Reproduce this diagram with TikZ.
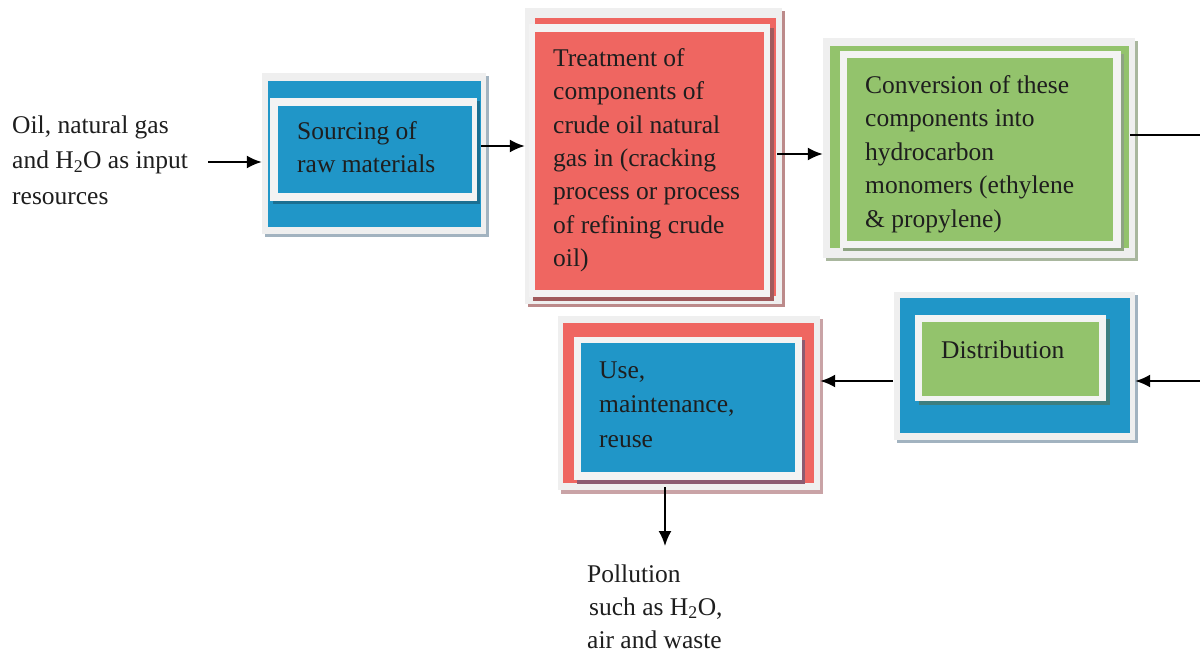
\documentclass[tikz,border=0pt]{standalone}
\usepackage{fontspec}
\setmainfont{Liberation Serif}
\usetikzlibrary{arrows.meta,fit}
\definecolor{cblue}{HTML}{2096C8}
\definecolor{cred}{HTML}{EF6661}
\definecolor{cgreen}{HTML}{93C36C}
\definecolor{cframe}{HTML}{EFEFEF}
\definecolor{cinframe}{HTML}{F3F3F3}
\definecolor{shblue}{HTML}{A2B3C0}
\definecolor{shbluein}{HTML}{1B6F92}
\definecolor{shred}{HTML}{BC8A8A}
\definecolor{shredin}{HTML}{A05A5C}
\definecolor{shgreen}{HTML}{A9B79E}
\definecolor{shgreenin}{HTML}{8EA482}
\definecolor{shuse}{HTML}{C9A3A6}
\definecolor{shusein}{HTML}{8C5A70}
\definecolor{shdistin}{HTML}{3D7E80}
\definecolor{txt}{HTML}{1E1E1E}
\newcommand\tightsp{\spaceskip=0.25em plus 0.05em minus 0.05em\relax}
\tikzset{
  lbl/.style={anchor=base west, inner sep=0pt, align=left, text width=260pt,
    text=txt, font=\fontsize{25.5}{33.5}\selectfont},
  arr/.style={line width=2pt, -{Latex[length=15pt,width=13pt]}},
  plain/.style={line width=2pt},
  hold/.style={inner sep=0pt, draw=none}
}
\begin{document}
\begin{tikzpicture}[x=1pt,y=-1pt]
\useasboundingbox[fill=white] (0,0) rectangle (1200,653);

% ---------- Sourcing box ----------
\fill[shblue] (265,76) rectangle (489,237);
\fill[cframe] (262,73) rectangle (486,234);
\fill[cblue] (268,81) rectangle (481,227);
\fill[shbluein] (273,101) rectangle (480,204);
\fill[cinframe] (270,98) rectangle (477,201);
\fill[cblue] (278,106) rectangle (472,193);
\node[hold, fit={(262,73) (486,234)}] (src) {};
\node[lbl] (srct) at (297,139) {\tightsp Sourcing of\\raw materials};

% ---------- Treatment box ----------
\fill[shred] (528,11) rectangle (785,307);
\fill[cframe] (525,8) rectangle (782,304);
\fill[cred] (535,18) rectangle (776,296);
\fill[shredin] (533,28) rectangle (774,301);
\fill[cinframe] (529,24) rectangle (770,297);
\fill[cred] (535,32) rectangle (764,290);
\node[hold, fit={(525,8) (782,304)}] (trt) {};
\node[lbl] (trtt) at (553,66) {\tightsp Treatment of\\components of\\crude oil natural\\gas in (cracking\\process or process\\of refining crude\\oil)};

% ---------- Conversion box ----------
\fill[shgreen] (826,41) rectangle (1138,261);
\fill[cframe] (823,38) rectangle (1135,258);
\fill[cgreen] (830,46) rectangle (1129,248);
\fill[shgreenin] (843,54) rectangle (1124,251);
\fill[cinframe] (840,51) rectangle (1121,248);
\fill[cgreen] (847,58) rectangle (1113,241);
\node[hold, fit={(823,38) (1135,258)}] (cnv) {};
\node[lbl] (cnvt) at (865,93) {\tightsp Conversion of these\\components into\\hydrocarbon\\monomers (ethylene\\\& propylene)};

% ---------- Distribution box ----------
\fill[shblue] (897,295) rectangle (1138,443);
\fill[cframe] (894,292) rectangle (1135,440);
\fill[cblue] (900,298) rectangle (1130,433);
\fill[shdistin] (919,319) rectangle (1110,405);
\fill[cinframe] (915,315) rectangle (1106,401);
\fill[cgreen] (922,322) rectangle (1099,396);
\node[hold, fit={(894,292) (1135,440)}] (dst) {};
\node[lbl] (dstt) at (941,358) {Distribution};

% ---------- Use box ----------
\fill[shuse] (561,319) rectangle (823,494);
\fill[cframe] (558,316) rectangle (820,490);
\fill[cred] (563,323) rectangle (814,483);
\fill[shusein] (577,340) rectangle (805,484);
\fill[cinframe] (574,337) rectangle (802,480);
\fill[cblue] (581,343) rectangle (795,472);
\node[hold, fit={(558,316) (820,490)}] (use) {};
\node[lbl, font=\fontsize{25.5}{34.5}\selectfont] (uset) at (599,378) {\tightsp Use,\\maintenance,\\reuse};

% ---------- free texts ----------
\node[lbl, font=\fontsize{25.5}{35.5}\selectfont] (inp) at (12,133) {\tightsp Oil, natural gas\\and H\textsubscript{2}O as input\\resources};
\node[lbl, font=\fontsize{25.5}{33}\selectfont] (pol) at (587,582) {\tightsp Pollution\\\hspace{2pt}such as H\textsubscript{2}O,\\air and waste};

% ---------- connectors ----------
\coordinate (instart) at (208,162);
\draw[arr] (instart) -- (instart -| src.west);

\coordinate (st) at (481,146);
\draw[arr] (st) -- (st -| trt.west);

\coordinate (tc) at (777,154);
\draw[arr] (tc) -- (tc -| cnv.west);

\coordinate (cout) at (1130,135);
\coordinate (redge1) at (1200,135);
\draw[plain] (cout) -- (redge1);

\coordinate (redge2) at (1200,381);
\draw[arr] (redge2) -- (redge2 -| dst.east);

\coordinate (du) at (893,381);
\draw[arr] (du) -- (du -| use.east);

\coordinate (up) at (665,487);
\coordinate (polltop) at (665,546);
\draw[arr] (up) -- (polltop);
\end{tikzpicture}
\end{document}
